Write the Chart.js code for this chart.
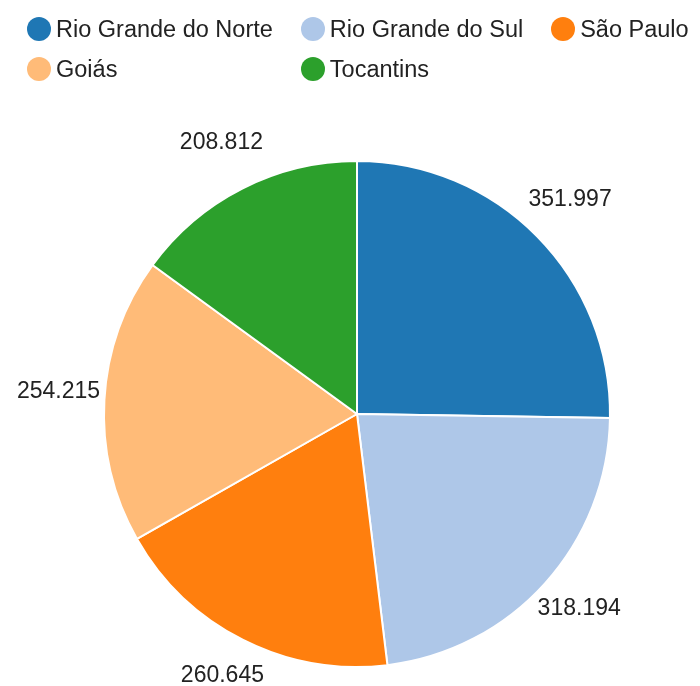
<!DOCTYPE html>
<html>
<head>
<meta charset="utf-8">
<script src="https://cdn.jsdelivr.net/npm/chart.js@4/dist/chart.umd.min.js"></script>
<style>
  html, body { margin: 0; padding: 0; background: #fff; }
  #wrap { position: relative; width: 700px; height: 686px; }
  #chart { position: absolute; left: 0; top: 0; }
  #legend {
    position: absolute; left: 27px; top: 17px;
    display: grid; grid-template-columns: repeat(3, auto);
    column-gap: 28px; row-gap: 16px; justify-content: start;
    font-family: "Liberation Sans", Arial, sans-serif; font-size: 23.5px; color: #222;
  }
  .item { display: flex; align-items: center; height: 24px; white-space: nowrap; }
  .dot { width: 24px; height: 24px; border-radius: 50%; margin-right: 5px; flex: none; }
</style>
</head>
<body>
<div id="wrap">
  <canvas id="chart" width="700" height="686"></canvas>
  <div id="legend"></div>
</div>
<script>
const categories = ["Rio Grande do Norte", "Rio Grande do Sul", "São Paulo", "Goiás", "Tocantins"];
const values = [351.997, 318.194, 260.645, 254.215, 208.812];
const valueLabels = ["351.997", "318.194", "260.645", "254.215", "208.812"];
const colors = ["#1f77b4", "#aec7e8", "#ff7f0e", "#ffbb78", "#2ca02c"];

// HTML legend
const legendEl = document.getElementById('legend');
categories.forEach((c, i) => {
  const it = document.createElement('div');
  it.className = 'item';
  const d = document.createElement('span');
  d.className = 'dot';
  d.style.background = colors[i];
  const t = document.createElement('span');
  t.textContent = c;
  it.appendChild(d); it.appendChild(t);
  legendEl.appendChild(it);
});

const outsideLabels = {
  id: 'outsideLabels',
  afterDatasetsDraw(chart) {
    const ctx = chart.ctx;
    const meta = chart.getDatasetMeta(0);
    ctx.save();
    ctx.font = '23px "Liberation Sans", Arial, sans-serif';
    ctx.fillStyle = '#222';
    ctx.textAlign = 'center';
    ctx.textBaseline = 'middle';
    meta.data.forEach((arc, i) => {
      const p = arc.getProps(['x', 'y', 'startAngle', 'endAngle', 'outerRadius'], true);
      const mid = (p.startAngle + p.endAngle) / 2;
      const r = p.outerRadius + 46;
      ctx.fillText(valueLabels[i], p.x + Math.cos(mid) * r, p.y + Math.sin(mid) * r - 5);
    });
    ctx.restore();
  }
};

new Chart(document.getElementById('chart'), {
  type: 'pie',
  data: {
    labels: categories,
    datasets: [{
      data: values,
      backgroundColor: colors,
      borderColor: '#ffffff',
      borderWidth: 2,
      hoverOffset: 0
    }]
  },
  options: {
    responsive: false,
    animation: false,
    layout: { padding: { left: 103, right: 89, top: 160, bottom: 18 } },
    plugins: {
      legend: { display: false },
      tooltip: { enabled: false }
    }
  },
  plugins: [outsideLabels]
});
</script>
</body>
</html>
